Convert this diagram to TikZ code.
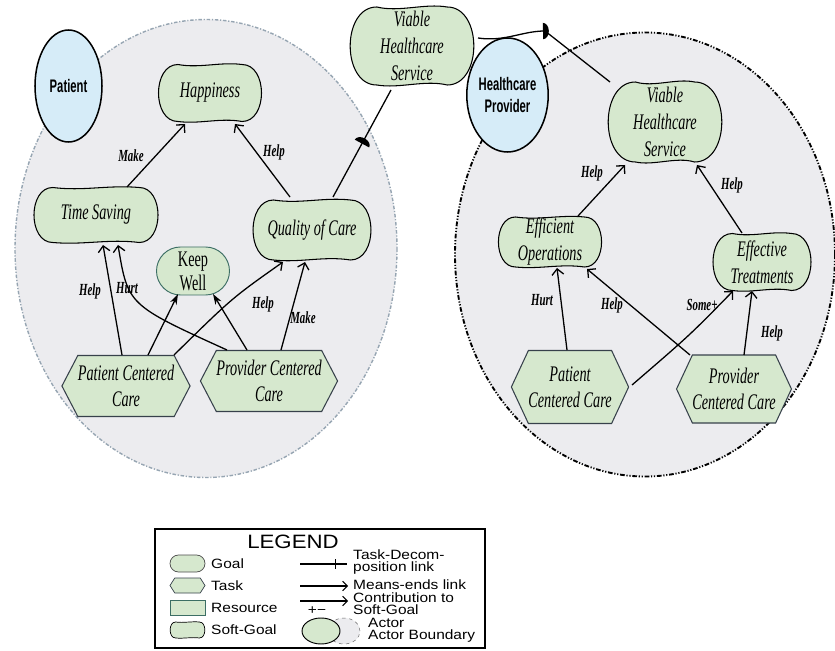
\documentclass[tikz,border=0pt]{standalone}
\usepackage{fontspec}
\setmainfont{Liberation Serif}
\newfontfamily\nodefont[FakeStretch=0.64]{Liberation Serif}
\newfontfamily\actfont[FakeStretch=0.62]{Liberation Sans}
\newfontfamily\legfont[FakeStretch=1.15]{Liberation Sans}
\usetikzlibrary{arrows.meta,calc,positioning}
\usetikzlibrary{shapes.geometric,shapes.misc,shapes.symbols}
\usetikzlibrary{decorations,decorations.markings}

\definecolor{sgfill}{RGB}{214,232,206}
\definecolor{actfill}{RGB}{214,236,248}
\definecolor{bndfill}{RGB}{236,236,239}
\definecolor{bndline}{RGB}{150,165,178}
\definecolor{goalline}{RGB}{60,110,100}
\definecolor{taskline}{RGB}{55,65,75}

\tikzset{
  sgtext/.style={font=\nodefont\itshape\fontsize{19}{23}\selectfont,align=center,inner sep=0pt},
  sgline/.style={draw=black,fill=sgfill,line width=0.9pt},
  task/.style={signal,signal to=east and west,signal pointer angle=125,draw=taskline,fill=sgfill,
    line width=0.9pt,font=\nodefont\itshape\fontsize{19}{22}\selectfont,align=center,inner sep=0pt},
  goal/.style={rounded rectangle,draw=goalline,fill=sgfill,line width=0.8pt,inner sep=0pt},
  actor/.style={ellipse,draw=black,fill=actfill,line width=1.3pt,
    font=\actfont\bfseries\fontsize{15.5}{18.4}\selectfont,align=center,inner sep=0pt},
  lbl/.style={font=\nodefont\bfseries\itshape\fontsize{14.5}{16}\selectfont,inner sep=1pt},
  link/.style={line width=1.1pt,-{Straight Barb[length=5pt,width=10pt]}},
  meansend/.style={line width=1.1pt,-{Stealth[length=9pt,width=6pt]}},
  deplink/.style={line width=1.1pt},
  dmark/.style={decoration={markings,mark=at position #1 with
    {\fill (0,-7pt) arc[start angle=-90,end angle=90,x radius=5pt,y radius=7pt] -- cycle;}},
    postaction={decorate}},
  lbound/.style={fill=bndfill,draw=bndline,line width=1.2pt,dash pattern=on 3pt off 1.5pt on 1pt off 1.5pt},
  rbound/.style={fill=bndfill,draw=black,line width=1.6pt,
    dash pattern=on 4pt off 1.5pt on 1pt off 1.5pt on 1pt off 1.5pt},
  legtext/.style={font=\legfont\fontsize{11.5}{10}\selectfont,align=left,anchor=west,inner sep=0pt},
  legline/.style={line width=0.9pt},
  decomp/.style={legline,decoration={markings,mark=at position 0.75 with {\draw (0,-4pt) -- (0,4pt);}},
    postaction={decorate}}
}

% soft-goal: name, centre, width, height, text (sizes in px)
\newcommand{\softgoal}[6][]{%
  \pgfmathsetmacro{\sge}{0.7*#5/#4}%
  \pgfmathsetlengthmacro{\sgw}{#4*0.015cm}%
  \pgfmathsetlengthmacro{\sgh}{#5*0.015cm}%
  \begin{scope}[shift={(#3)},x=\sgw,y=\sgh]
    \path[sgline,#1] (-1+\sge,1) .. controls (-0.2,0.86) and (0.2,1.1) .. (1-\sge,1)
      .. controls (1+0.3*\sge,1) and (1+0.3*\sge,-1) .. (1-\sge,-1)
      .. controls (0.2,-0.86) and (-0.2,-1.1) .. (-1+\sge,-1)
      .. controls (-1-0.3*\sge,-1) and (-1-0.3*\sge,1) .. cycle;
  \end{scope}
  \node[sgtext,minimum width=#4*0.03cm,minimum height=#5*0.03cm] (#2) at (#3) {#6};
}

\begin{document}
\begin{tikzpicture}[x=0.03cm,y=-0.03cm]
\useasboundingbox (0,0) rectangle (835,651);
\fill[white] (0,0) rectangle (835,651);

% actor boundaries
\draw[lbound] (206,248.5) ellipse [x radius=191,y radius=229];
\draw[rbound] (645,254.5) ellipse [x radius=190,y radius=222];

\node[actor,minimum width=67*0.03cm,minimum height=112*0.03cm] (pat) at (68.5,86) {Patient};
\node[actor,minimum width=69*0.03cm,minimum height=114*0.03cm] (hp) at (507.5,95) {Healthcare\\Provider};

% patient
\softgoal{hap}{210,93}{104}{57}{Happiness}
\softgoal{ts}{96,215}{125}{55}{Time Saving}
\softgoal{qoc}{312,230}{119}{60}{Quality of Care}
\node[goal,minimum width=73*0.03cm,minimum height=48*0.03cm,
  font=\nodefont\fontsize{19}{20.5}\selectfont,align=center] (kw) at (193,271) {Keep\\Well};
\node[task,minimum width=125*0.03cm,minimum height=61*0.03cm] (pcc) at (126,386) {Patient Centered\\Care};
\node[task,minimum width=135*0.03cm,minimum height=61*0.03cm] (prc) at (269,381) {Provider Centered\\Care};

\softgoal{vhs}{412,46}{125}{78}{Viable\\Healthcare\\Service}

% healthcare provider
\softgoal{vhs2}{665,122}{115}{80}{Viable\\Healthcare\\Service}
\softgoal{eo}{550,242}{104}{50}{Efficient\\Operations}
\softgoal{et}{762,262}{99}{57}{Effective\\Treatments}
\node[task,signal pointer angle=130,minimum width=115*0.03cm,minimum height=73*0.03cm] (pcc2) at (570,387) {Patient\\Centered Care};
\node[task,signal pointer angle=130,minimum width=108*0.03cm,minimum height=68*0.03cm] (prc2) at (734,389) {Provider\\Centered Care};

% links
\draw[link] ($(ts)+(31,-28)$) -- ($(hap)+(-25,31)$);
\draw[link] ($(qoc)+(-22,-33)$) -- ($(hap)+(25,31)$);
\draw[link] ($(pcc)+(-4,-31)$) -- ($(ts)+(7,30)$);
\draw[link] ($(prc)+(-42,-31)$) .. controls (128,305) .. ($(ts)+(22,30)$);
\draw[meansend] ($(pcc)+(22,-31)$) -- ($(kw)+(-15,23)$);
\draw[meansend] ($(prc)+(-22,-31)$) -- ($(kw)+(20,23)$);
\draw[link] ($(pcc)+(48,-31)$) .. controls (232,298) .. ($(qoc)+(-29,32)$);
\draw[link] ($(prc)+(12,-31)$) -- ($(qoc)+(-7,32)$);

\draw[link] ($(eo)+(28,-26)$) -- ($(vhs2)+(-40,43)$);
\draw[link] ($(et)+(-20,-29)$) -- ($(vhs2)+(32,43)$);
\draw[link] ($(pcc2)+(-3,-37)$) -- ($(eo)+(7,26)$);
\draw[link] ($(prc2)+(-44,-34)$) -- ($(eo)+(37,27)$);
\draw[link] ($(pcc2)+(62,-2)$) .. controls (690,335) .. ($(et)+(-29,29)$);
\draw[link] ($(prc2)+(10,-34)$) -- ($(et)+(-10,29)$);

% dependency
\coordinate (dtop) at (545,31);
\draw[deplink,dmark=0.5] ($(qoc)+(21,-33)$) -- ($(vhs)+(-21,44)$);
\draw[deplink,dmark=0.97] ($(vhs)+(66,-8)$) .. controls (505,42) and (522,31) .. (dtop);
\draw[deplink] (dtop) -- ($(vhs2)+(-55,-40)$);

% labels
\node[lbl] (l1) at (131,156) {Make};
\node[lbl] (l2) at (274,152) {Help};
\node[lbl] (l3) at (90,291) {Help};
\node[lbl] (l4) at (127,288) {Hurt};
\node[lbl] (l5) at (263,304) {Help};
\node[lbl] (l6) at (303,318) {Make};
\node[lbl] (l7) at (592,173) {Help};
\node[lbl] (l8) at (732,185) {Help};
\node[lbl] (l9) at (542,300) {Hurt};
\node[lbl] (l10) at (612,305) {Help};
\node[lbl] (l11) at (702,305) {Some+};
\node[lbl] (l12) at (772,333) {Help};

% legend
\draw[line width=1pt] (155,529) rectangle (485,648);
\node[font=\legfont\fontsize{16.5}{17}\selectfont,inner sep=0pt] (legt) at (293,542) {LEGEND};
\node[goal,draw=black!70,line width=0.6pt,minimum width=35*0.03cm,minimum height=17*0.03cm] (lgoal) at (187.5,563.5) {};
\node[task,line width=0.6pt,signal pointer angle=115,minimum width=35*0.03cm,minimum height=15*0.03cm] (ltask) at (187.5,585.5) {};
\node[draw=goalline,fill=sgfill,line width=0.6pt,minimum width=35*0.03cm,minimum height=15*0.03cm] (lres) at (187.5,607.5) {};
\softgoal[line width=0.6pt]{lsoft}{187.5,630}{35}{16}{}
\node[legtext] (tgoal) at (211,563.5) {Goal};
\node[legtext] (ttask) at (211,586) {Task};
\node[legtext] (tres) at (211,608) {Resource};
\node[legtext] (tsoft) at (211,630) {Soft-Goal};

\coordinate (ld1) at (300,564);
\coordinate (ld2) at (347,564);
\coordinate (lm1) at (300,586);
\coordinate (lm2) at (348,586);
\coordinate (lc1) at (300,601);
\coordinate (lc2) at (348,601);
\draw[decomp] (ld1) -- (ld2);
\draw[legline,-{Straight Barb[length=4pt,width=8pt]}] (lm1) -- (lm2);
\draw[legline,-{Straight Barb[length=4pt,width=8pt]}] (lc1) -- (lc2);
\node[legtext,anchor=center] (lpm) at (317,611) {+−};
\node[legtext] (tdec) at (353,562) {Task-Decom-\\position link};
\node[legtext] (tme) at (353,584.5) {Means-ends link};
\node[legtext] (tcon) at (353,604) {Contribution to\\Soft-Goal};

\node[ellipse,draw=black!60,dashed,fill=bndfill,minimum width=32*0.03cm,minimum height=26*0.03cm] (lbnd) at (344,631) {};
\node[ellipse,draw=black,fill=sgfill,line width=0.8pt,minimum width=38*0.03cm,minimum height=26*0.03cm] (lact) at (321,631) {};
\node[legtext] (tact) at (368,630) {Actor\\Actor Boundary};
\end{tikzpicture}
\end{document}
